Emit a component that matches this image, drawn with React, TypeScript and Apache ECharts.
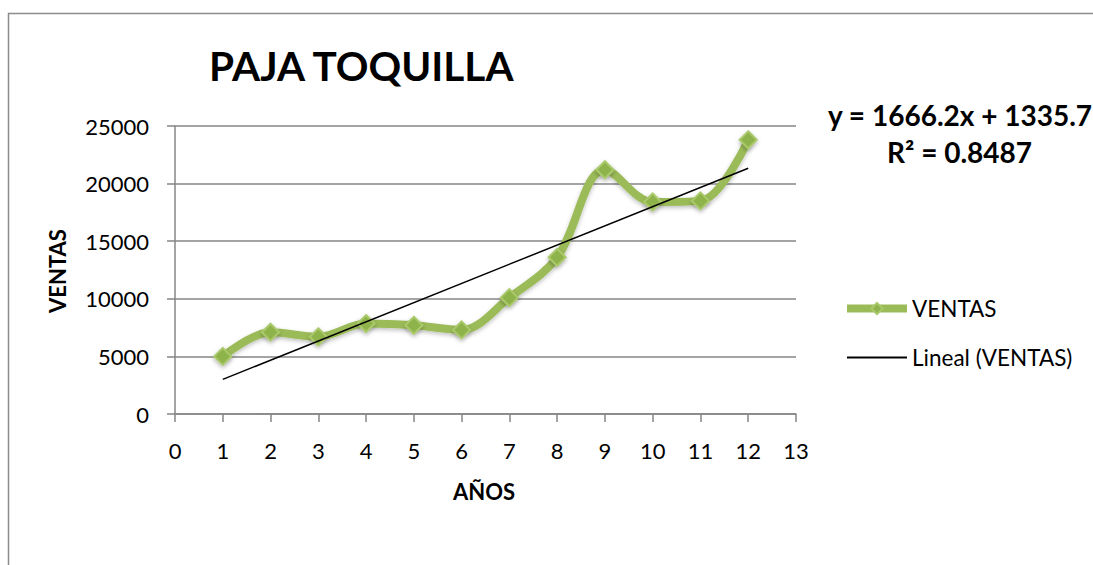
import React, { useEffect, useRef } from "react";
import * as echarts from "echarts";

const years = [1, 2, 3, 4, 5, 6, 7, 8, 9, 10, 11, 12];
const ventas = [5000, 7100, 6700, 7850, 7700, 7300, 10100, 13600, 21200, 18400, 18500, 23800];
const trendSlope = 1666.2;
const trendIntercept = 1335.7;
const r2 = 0.8487;
const titleText = "PAJA TOQUILLA";
const xName = "AÑOS";
const yName = "VENTAS";

const FONT = "Lato, 'Open Sans', sans-serif";

export default function App() {
  const ref = useRef<HTMLDivElement>(null);
  useEffect(() => {
    if (!ref.current) return;
    const chart = echarts.init(ref.current, undefined, { renderer: "svg" });
    const dataPts = years.map((x, i) => [x, ventas[i]]);
    const trendPts = [years[0], years[years.length - 1]].map((x) => [x, trendSlope * x + trendIntercept]);
    chart.setOption({
      animation: false,
      backgroundColor: "#ffffff",
      title: {
        text: titleText,
        left: 204,
        top: 40,
        textStyle: { fontFamily: FONT, fontWeight: "bold", fontSize: 40.5, color: "#000" },
      },
      grid: { left: 175, right: 297, top: 126, bottom: 151, containLabel: false },
      xAxis: {
        type: "value",
        min: 0,
        max: 13,
        interval: 1,
        axisLine: { show: true, lineStyle: { color: "#868686", width: 1.5 } },
        axisTick: { show: true, length: 8, lineStyle: { color: "#868686", width: 1.5 } },
        splitLine: { show: false },
        axisLabel: { fontFamily: FONT, fontSize: 22, color: "#000", margin: 25 },
      },
      yAxis: {
        type: "value",
        min: 0,
        max: 25000,
        interval: 5000,
        axisLine: { show: true, lineStyle: { color: "#868686", width: 1.5 } },
        axisTick: { show: true, length: 8, lineStyle: { color: "#868686", width: 1.5 } },
        splitLine: { show: true, lineStyle: { color: "#868686", width: 1.5 } },
        axisLabel: {
          fontFamily: FONT,
          fontSize: 22,
          color: "#000",
          margin: 26,
          formatter: (v: number) => String(v),
        },
      },
      legend: {
        orient: "vertical",
        left: 838,
        top: 292,
        itemWidth: 60,
        itemHeight: 14,
        itemGap: 26,
        textStyle: { fontFamily: FONT, fontSize: 22.5, color: "#000" },
        data: [
          { name: "VENTAS", lineStyle: { width: 8 } },
          { name: "Lineal (VENTAS)", itemStyle: { opacity: 0 } },
        ],
      },
      graphic: [
        {
          type: "rect",
          shape: { x: 8.5, y: 13.5, width: 1200, height: 700 },
          style: { fill: "none", stroke: "#8c8c8c", lineWidth: 1.5 },
          silent: true,
        },
        {
          type: "text",
          left: 828,
          top: 101,
          style: {
            text: `y = ${trendSlope}x + ${trendIntercept}`,
            fontFamily: FONT,
            fontWeight: "bold",
            fontSize: 28,
            fill: "#000",
          },
        },
        {
          type: "text",
          left: 887,
          top: 138,
          style: {
            text: `R² = ${r2}`,
            fontFamily: FONT,
            fontWeight: "bold",
            fontSize: 28,
            fill: "#000",
          },
        },
        {
          type: "text",
          x: 484,
          y: 491,
          style: {
            text: xName,
            fontFamily: FONT,
            fontWeight: "bold",
            fontSize: 22,
            fill: "#000",
            align: "center",
            verticalAlign: "middle",
          },
        },
        {
          type: "text",
          x: 57,
          y: 271,
          rotation: Math.PI / 2,
          style: {
            text: yName,
            fontFamily: FONT,
            fontWeight: "bold",
            fontSize: 22,
            fill: "#000",
            align: "center",
            verticalAlign: "middle",
          },
        },
      ],
      series: [
        {
          name: "VENTAS",
          type: "line",
          data: dataPts,
          smooth: 0.35,
          symbol: "diamond",
          symbolSize: 17,
          lineStyle: {
            color: "#9BBB59",
            width: 8,
            shadowColor: "rgba(0,0,0,0.25)",
            shadowBlur: 4,
            shadowOffsetY: 2,
          },
          itemStyle: {
            color: "#8fb34c",
            borderColor: "#a9c96a",
            borderWidth: 2,
            shadowColor: "rgba(0,0,0,0.3)",
            shadowBlur: 4,
            shadowOffsetY: 2,
          },
          z: 2,
        },
        {
          name: "Lineal (VENTAS)",
          type: "line",
          data: trendPts,
          symbol: "none",
          showSymbol: false,
          lineStyle: { color: "#000", width: 1.5 },
          itemStyle: { color: "#000" },
          z: 3,
        },
      ],
    });
    return () => chart.dispose();
  }, []);
  return (
    <div
      ref={ref}
      style={{ position: "absolute", left: 0, top: 0, width: 1093, height: 565, background: "#fff" }}
    />
  );
}
